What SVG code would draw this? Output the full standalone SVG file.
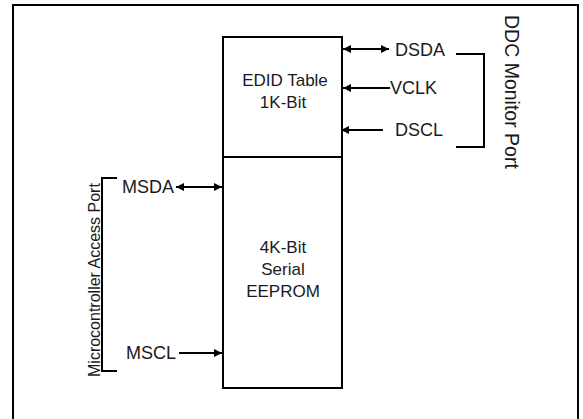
<svg xmlns="http://www.w3.org/2000/svg" width="583" height="419" viewBox="0 0 583 419">
<style>
.ln{stroke:#000;stroke-width:2;fill:none}
.bx{stroke:#000;stroke-width:2;fill:#fff}
text{font-family:"Liberation Sans",Arial,sans-serif;font-size:17px;fill:#1a1a1a}
.lb{font-size:18px}
.c{text-anchor:middle}
</style>
<defs>
<marker id="ah" viewBox="0 0 10 10" refX="10" refY="5" markerWidth="12" markerHeight="8" markerUnits="userSpaceOnUse" orient="auto-start-reverse">
<path d="M0,0 L10,5 L0,10 z" fill="#000"/>
</marker>
</defs>
<rect x="13" y="5" width="565" height="430" class="ln"/>
<g id="eeprom">
<rect x="223" y="37" width="119" height="351" class="bx"/>
<line x1="223" y1="157" x2="342" y2="157" class="ln"/>
<text x="285" y="86" class="c">EDID Table</text>
<text x="283" y="108" class="c">1K-Bit</text>
<text x="283" y="253" class="c">4K-Bit</text>
<text x="283" y="275" class="c">Serial</text>
<text x="283" y="297" class="c">EEPROM</text>
</g>
<g id="ddc">
<text x="395" y="56" class="lb">DSDA</text>
<text x="390" y="94" class="lb">VCLK</text>
<text x="395" y="136" class="lb">DSCL</text>
<text transform="translate(505,15) rotate(90)" style="font-size:19.5px">DDC Monitor Port</text>
</g>
<g id="mcu">
<text x="122" y="193" class="lb">MSDA</text>
<text x="126" y="359" class="lb">MSCL</text>
<text transform="translate(100,377) rotate(-90)" style="font-size:16px">Microcontroller Access Port</text>
</g>
<g id="connectors">
<line x1="343" y1="49" x2="389" y2="49" class="ln" marker-start="url(#ah)" marker-end="url(#ah)"/>
<line x1="390" y1="88" x2="343" y2="88" class="ln" marker-end="url(#ah)"/>
<line x1="383" y1="130" x2="341" y2="130" class="ln" marker-end="url(#ah)"/>
<polyline points="456,54 484,54 484,147 456,147" class="ln"/>
<line x1="176" y1="187" x2="222" y2="187" class="ln" marker-start="url(#ah)" marker-end="url(#ah)"/>
<line x1="179" y1="353" x2="222" y2="353" class="ln" marker-end="url(#ah)"/>
<polyline points="117,178 102,178 102,371 117,371" class="ln"/>
</g>
</svg>
